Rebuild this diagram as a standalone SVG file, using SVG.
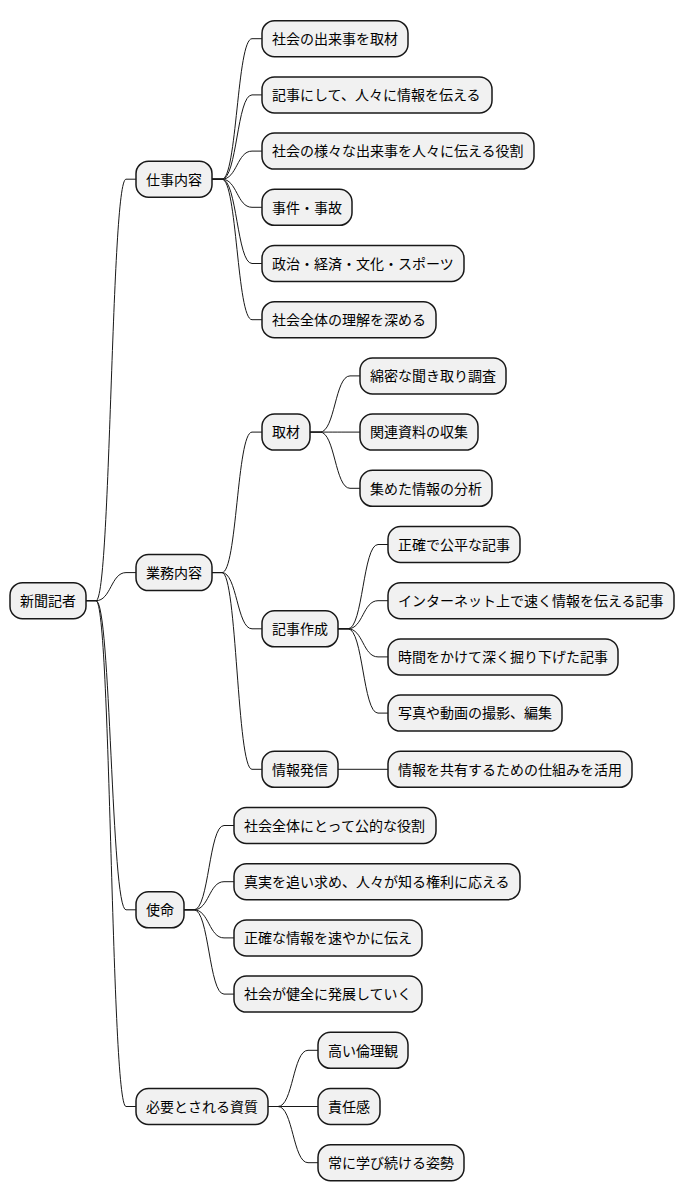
<svg xmlns="http://www.w3.org/2000/svg" width="684" height="1203" viewBox="0 0 684 1203">
<style>
.n rect{fill:#F1F1F1;stroke:#181818;stroke-width:1.5}
.n text{font-family:"Noto Sans CJK JP","Noto Sans",sans-serif;font-size:14px;fill:#000000}
.c path{fill:none;stroke:#181818;stroke-width:1}
</style>
<rect x="0" y="0" width="684" height="1203" fill="#FFFFFF"/>
<g class="c" id="connectors">
<path d="M86,600.7 L96,600.7 C111,600.7 111,179.2 126,179.2 L136,179.2"/>
<path d="M86,600.7 L96,600.7 C111,600.7 111,572.6 126,572.6 L136,572.6"/>
<path d="M86,600.7 L96,600.7 C111,600.7 111,909.8 126,909.8 L136,909.8"/>
<path d="M86,600.7 L96,600.7 C111,600.7 111,1106.5 126,1106.5 L136,1106.5"/>
<path d="M212,179.2 L222,179.2 C237,179.2 237,38.7 252,38.7 L262,38.7"/>
<path d="M212,179.2 L222,179.2 C237,179.2 237,94.9 252,94.9 L262,94.9"/>
<path d="M212,179.2 L222,179.2 C237,179.2 237,151.1 252,151.1 L262,151.1"/>
<path d="M212,179.2 L222,179.2 C237,179.2 237,207.3 252,207.3 L262,207.3"/>
<path d="M212,179.2 L222,179.2 C237,179.2 237,263.5 252,263.5 L262,263.5"/>
<path d="M212,179.2 L222,179.2 C237,179.2 237,319.7 252,319.7 L262,319.7"/>
<path d="M212,572.6 L222,572.6 C237,572.6 237,432.1 252,432.1 L262,432.1"/>
<path d="M212,572.6 L222,572.6 C237,572.6 237,628.8 252,628.8 L262,628.8"/>
<path d="M212,572.6 L222,572.6 C237,572.6 237,769.3 252,769.3 L262,769.3"/>
<path d="M310,432.1 L320,432.1 C335,432.1 335,375.9 350,375.9 L360,375.9"/>
<path d="M310,432.1 L320,432.1 C335,432.1 335,432.1 350,432.1 L360,432.1"/>
<path d="M310,432.1 L320,432.1 C335,432.1 335,488.3 350,488.3 L360,488.3"/>
<path d="M338,628.8 L348,628.8 C363,628.8 363,544.5 378,544.5 L388,544.5"/>
<path d="M338,628.8 L348,628.8 C363,628.8 363,600.7 378,600.7 L388,600.7"/>
<path d="M338,628.8 L348,628.8 C363,628.8 363,656.9 378,656.9 L388,656.9"/>
<path d="M338,628.8 L348,628.8 C363,628.8 363,713.1 378,713.1 L388,713.1"/>
<path d="M338,769.3 L388,769.3"/>
<path d="M184,909.8 L194,909.8 C209,909.8 209,825.5 224,825.5 L234,825.5"/>
<path d="M184,909.8 L194,909.8 C209,909.8 209,881.7 224,881.7 L234,881.7"/>
<path d="M184,909.8 L194,909.8 C209,909.8 209,937.9 224,937.9 L234,937.9"/>
<path d="M184,909.8 L194,909.8 C209,909.8 209,994.1 224,994.1 L234,994.1"/>
<path d="M268,1106.5 L278,1106.5 C293,1106.5 293,1050.3 308,1050.3 L318,1050.3"/>
<path d="M268,1106.5 L318,1106.5"/>
<path d="M268,1106.5 L278,1106.5 C293,1106.5 293,1162.7 308,1162.7 L318,1162.7"/>
</g>
<g class="n" id="root"><rect x="10" y="582.7" width="76" height="36" rx="12.5"/><text x="20" y="606">新聞記者</text></g>
<g class="n" id="shigoto"><rect x="136" y="161.2" width="76" height="36" rx="12.5"/><text x="146" y="184.5">仕事内容</text></g>
<g class="n" id="s1"><rect x="262" y="20.7" width="146" height="36" rx="12.5"/><text x="272" y="44">社会の出来事を取材</text></g>
<g class="n" id="s2"><rect x="262" y="76.9" width="230" height="36" rx="12.5"/><text x="272" y="100.2">記事にして、人々に情報を伝える</text></g>
<g class="n" id="s3"><rect x="262" y="133.1" width="272" height="36" rx="12.5"/><text x="272" y="156.4">社会の様々な出来事を人々に伝える役割</text></g>
<g class="n" id="s4"><rect x="262" y="189.3" width="90" height="36" rx="12.5"/><text x="272" y="212.6">事件・事故</text></g>
<g class="n" id="s5"><rect x="262" y="245.5" width="202" height="36" rx="12.5"/><text x="272" y="268.8">政治・経済・文化・スポーツ</text></g>
<g class="n" id="s6"><rect x="262" y="301.7" width="174" height="36" rx="12.5"/><text x="272" y="325">社会全体の理解を深める</text></g>
<g class="n" id="gyomu"><rect x="136" y="554.6" width="76" height="36" rx="12.5"/><text x="146" y="577.9">業務内容</text></g>
<g class="n" id="shuzai"><rect x="262" y="414.1" width="48" height="36" rx="12.5"/><text x="272" y="437.4">取材</text></g>
<g class="n" id="z1"><rect x="360" y="357.9" width="146" height="36" rx="12.5"/><text x="370" y="381.2">綿密な聞き取り調査</text></g>
<g class="n" id="z2"><rect x="360" y="414.1" width="118" height="36" rx="12.5"/><text x="370" y="437.4">関連資料の収集</text></g>
<g class="n" id="z3"><rect x="360" y="470.3" width="132" height="36" rx="12.5"/><text x="370" y="493.6">集めた情報の分析</text></g>
<g class="n" id="kiji"><rect x="262" y="610.8" width="76" height="36" rx="12.5"/><text x="272" y="634.1">記事作成</text></g>
<g class="n" id="k1"><rect x="388" y="526.5" width="132" height="36" rx="12.5"/><text x="398" y="549.8">正確で公平な記事</text></g>
<g class="n" id="k2"><rect x="388" y="582.7" width="286" height="36" rx="12.5"/><text x="398" y="606">インターネット上で速く情報を伝える記事</text></g>
<g class="n" id="k3"><rect x="388" y="638.9" width="230" height="36" rx="12.5"/><text x="398" y="662.2">時間をかけて深く掘り下げた記事</text></g>
<g class="n" id="k4"><rect x="388" y="695.1" width="174" height="36" rx="12.5"/><text x="398" y="718.4">写真や動画の撮影、編集</text></g>
<g class="n" id="hasshin"><rect x="262" y="751.3" width="76" height="36" rx="12.5"/><text x="272" y="774.6">情報発信</text></g>
<g class="n" id="h1"><rect x="388" y="751.3" width="244" height="36" rx="12.5"/><text x="398" y="774.6">情報を共有するための仕組みを活用</text></g>
<g class="n" id="shimei"><rect x="136" y="891.8" width="48" height="36" rx="12.5"/><text x="146" y="915.1">使命</text></g>
<g class="n" id="m1"><rect x="234" y="807.5" width="202" height="36" rx="12.5"/><text x="244" y="830.8">社会全体にとって公的な役割</text></g>
<g class="n" id="m2"><rect x="234" y="863.7" width="286" height="36" rx="12.5"/><text x="244" y="887">真実を追い求め、人々が知る権利に応える</text></g>
<g class="n" id="m3"><rect x="234" y="919.9" width="188" height="36" rx="12.5"/><text x="244" y="943.2">正確な情報を速やかに伝え</text></g>
<g class="n" id="m4"><rect x="234" y="976.1" width="188" height="36" rx="12.5"/><text x="244" y="999.4">社会が健全に発展していく</text></g>
<g class="n" id="shishitsu"><rect x="136" y="1088.5" width="132" height="36" rx="12.5"/><text x="146" y="1111.8">必要とされる資質</text></g>
<g class="n" id="q1"><rect x="318" y="1032.3" width="90" height="36" rx="12.5"/><text x="328" y="1055.6">高い倫理観</text></g>
<g class="n" id="q2"><rect x="318" y="1088.5" width="62" height="36" rx="12.5"/><text x="328" y="1111.8">責任感</text></g>
<g class="n" id="q3"><rect x="318" y="1144.7" width="146" height="36" rx="12.5"/><text x="328" y="1168">常に学び続ける姿勢</text></g>
</svg>
